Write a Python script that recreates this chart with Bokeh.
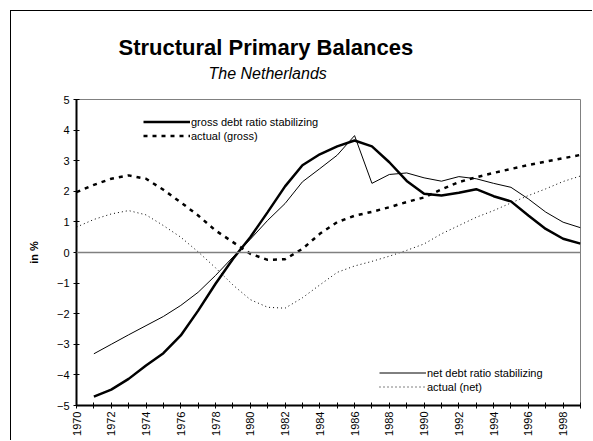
from bokeh.plotting import figure
from bokeh.models import Range1d, FixedTicker, Span, Legend, LegendItem, Title, InlineStyleSheet
from bokeh.embed import file_html
from bokeh.resources import INLINE
import math

# ---- data ----
years_act = list(range(1970, 2000))
years_stab = list(range(1971, 2000))

gross_stabilizing = [-4.71, -4.48, -4.13, -3.69, -3.29, -2.71, -1.90, -1.02, -0.21, 0.50,
                     1.32, 2.16, 2.85, 3.21, 3.47, 3.66, 3.47, 2.95, 2.34, 1.92,
                     1.86, 1.95, 2.07, 1.84, 1.67, 1.21, 0.77, 0.45, 0.29]
net_stabilizing = [-3.31, -3.00, -2.69, -2.39, -2.09, -1.73, -1.30, -0.75, -0.15, 0.43,
                   1.05, 1.60, 2.31, 2.74, 3.18, 3.82, 2.26, 2.55, 2.60, 2.44,
                   2.33, 2.48, 2.41, 2.26, 2.13, 1.75, 1.32, 0.99, 0.81]
actual_gross = [1.97, 2.21, 2.41, 2.52, 2.41, 2.05, 1.64, 1.21, 0.72, 0.34,
                -0.04, -0.24, -0.22, 0.12, 0.61, 0.99, 1.20, 1.33, 1.48, 1.65,
                1.80, 2.06, 2.30, 2.46, 2.60, 2.73, 2.86, 2.97, 3.08, 3.19]
actual_net = [0.83, 1.08, 1.26, 1.37, 1.23, 0.88, 0.50, 0.02, -0.50, -1.06,
              -1.54, -1.79, -1.82, -1.48, -1.06, -0.65, -0.44, -0.29, -0.12, 0.07,
              0.28, 0.61, 0.88, 1.15, 1.37, 1.62, 1.86, 2.08, 2.32, 2.50]

y_ticks = [-5, -4, -3, -2, -1, 0, 1, 2, 3, 4, 5]
x_ticks = list(range(1970, 2000))
x_labels = {y: (str(y) if y % 2 == 0 else "") for y in x_ticks}

title_text = "Structural Primary Balances"
subtitle_text = "The Netherlands"

FONT = "Liberation Sans"

p = figure(width=582, height=430, output_backend="svg", toolbar_location=None,
           x_range=Range1d(1970, 1999), y_range=Range1d(-5, 5),
           min_border_left=65, min_border_right=13, min_border_top=88, min_border_bottom=36)
p.margin = (10, 0, 0, 10)
p.stylesheets = [InlineStyleSheet(css=":host { border-left: 1px solid black; border-top: 1px solid black; }")]

p.grid.visible = False
p.outline_line_color = "#808080"
p.outline_line_width = 1
p.background_fill_color = "white"
p.border_fill_color = "white"

# titles (first added sits nearest the plot area)
p.add_layout(Title(text=" ", text_font_size="14px", text_font=FONT, standoff=0), "above")
p.add_layout(Title(text=subtitle_text, text_font_size="16px", text_font=FONT,
                   text_font_style="italic", text_color="black", align="left",
                   offset=132, standoff=0), "above")
p.add_layout(Title(text=title_text, text_font_size="22px", text_font=FONT,
                   text_font_style="bold", text_color="black", align="left",
                   offset=42, standoff=6), "above")

# axes
xa = p.xaxis[0]
xa.ticker = FixedTicker(ticks=x_ticks)
xa.major_label_overrides = x_labels
xa.major_label_orientation = math.pi / 2
xa.major_label_text_font = FONT
xa.major_label_text_font_size = "11px"
xa.major_label_text_color = "black"
xa.major_label_standoff = 3
xa.major_tick_in = 3
xa.major_tick_out = 3
xa.minor_tick_line_color = None
xa.axis_line_width = 2
xa.major_tick_line_width = 1

ya = p.yaxis[0]
ya.ticker = FixedTicker(ticks=y_ticks)
ya.major_label_text_font = FONT
ya.major_label_text_font_size = "11px"
ya.major_label_text_color = "black"
ya.major_label_standoff = 4
ya.major_tick_in = 3
ya.major_tick_out = 3
ya.minor_tick_line_color = None
ya.axis_line_width = 2
ya.axis_label = "in %"
ya.axis_label_text_font = FONT
ya.axis_label_text_font_size = "11px"
ya.axis_label_text_font_style = "bold"
ya.axis_label_text_color = "black"
ya.axis_label_standoff = 14

p.add_layout(Span(location=0, dimension="width", line_color="#808080", line_width=1.5))

r_gross = p.line(years_stab, gross_stabilizing, line_color="black", line_width=2.5)
r_agross = p.line(years_act, actual_gross, line_color="black", line_width=2.5, line_dash="4 5")
r_net = p.line(years_stab, net_stabilizing, line_color="black", line_width=1)
r_anet = p.line(years_act, actual_net, line_color="black", line_width=1, line_dash="1 3")

common = dict(border_line_color=None, background_fill_alpha=0, padding=0, margin=0,
              label_text_font=FONT, label_text_font_size="11px", label_text_color="black",
              glyph_width=47, glyph_height=13, label_height=13, spacing=1, label_standoff=1)
leg1 = Legend(items=[LegendItem(label="gross debt ratio stabilizing", renderers=[r_gross]),
                     LegendItem(label="actual (gross)", renderers=[r_agross])],
              location=(67, 263), **common)
leg2 = Legend(items=[LegendItem(label="net debt ratio stabilizing", renderers=[r_net]),
                     LegendItem(label="actual (net)", renderers=[r_anet])],
              location=(303, 12), **common)
p.add_layout(leg1)
p.add_layout(leg2)

open("out.html", "w").write(file_html(p, INLINE))
